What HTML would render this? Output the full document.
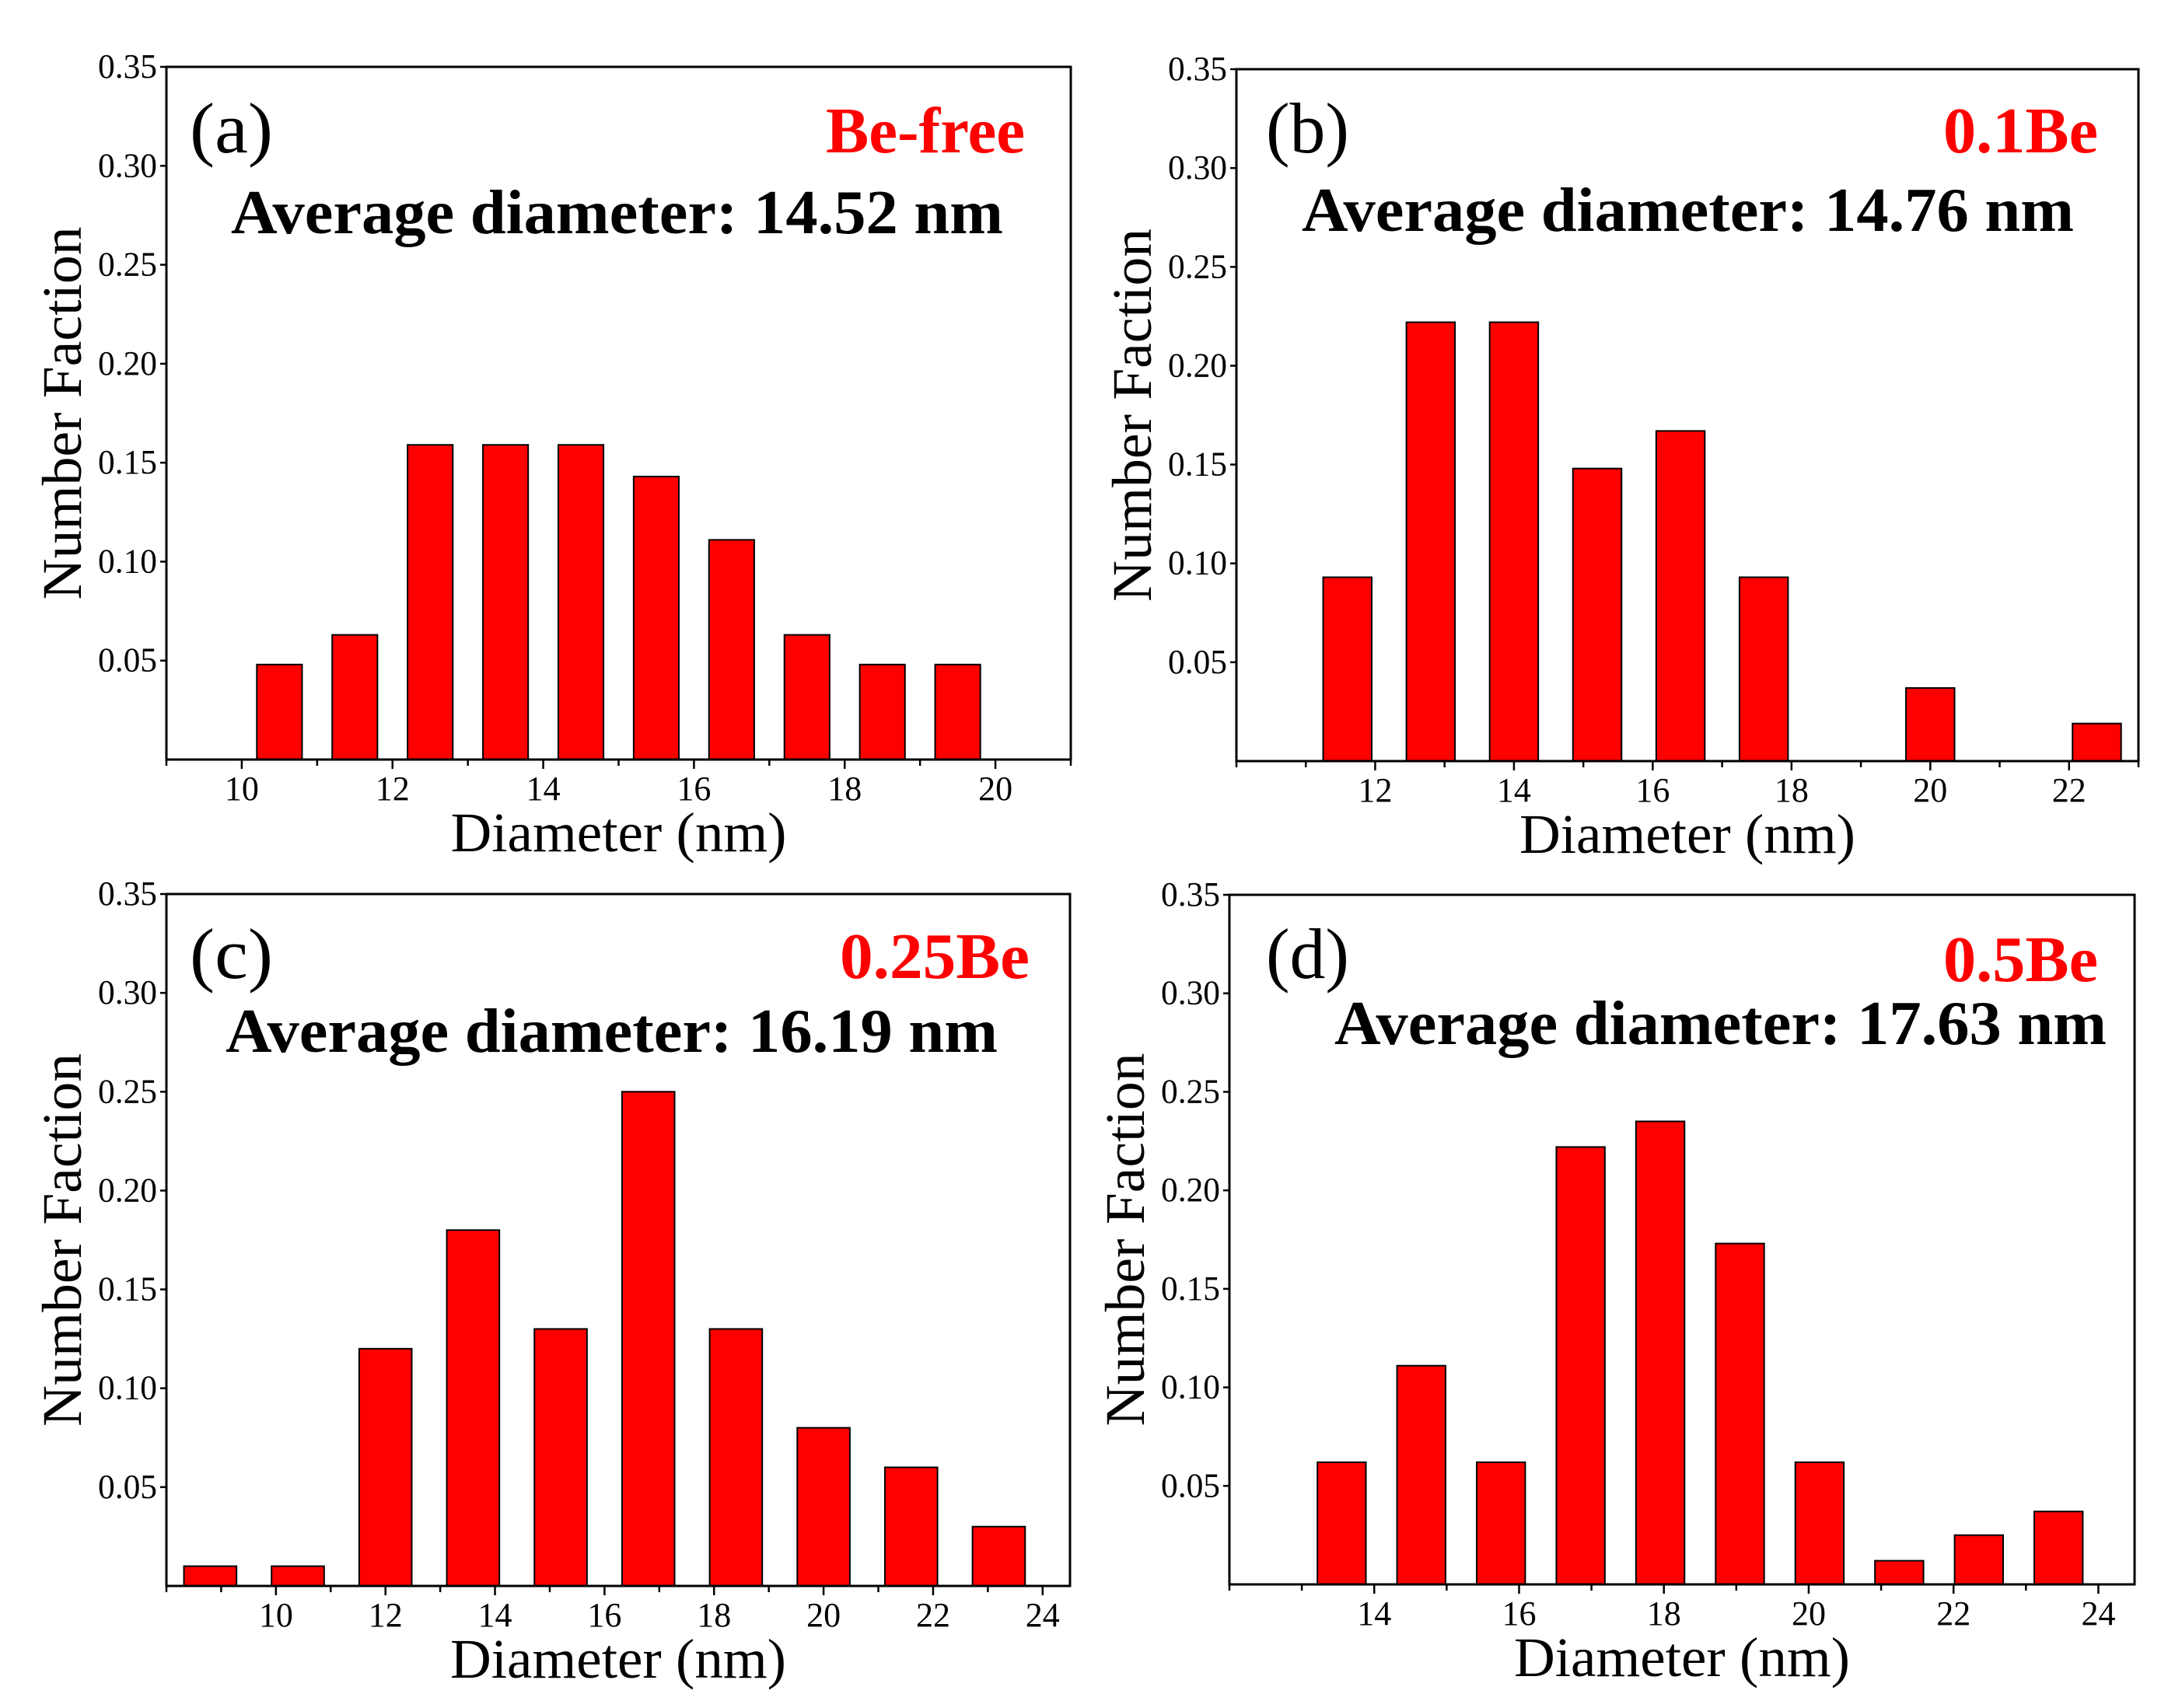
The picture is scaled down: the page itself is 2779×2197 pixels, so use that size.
<!DOCTYPE html>
<html><head><meta charset="utf-8"><style>
html,body{margin:0;padding:0;background:#fff;}
svg{display:block;}
text{font-family:"Liberation Serif",serif;}
</style></head><body>
<svg id="fig" width="2779" height="2197" viewBox="0 0 2779 2197" xmlns="http://www.w3.org/2000/svg"></svg>
<script>
const catsA=[10.5,11.5,12.5,13.5,14.5,15.5,16.5,17.5,18.5,19.5];
const valsA=[0.048,0.063,0.159,0.159,0.159,0.143,0.111,0.063,0.048,0.048];
const catsB=[11.6,12.8,14.0,15.2,16.4,17.6,18.8,20.0,21.2,22.4];
const valsB=[0.093,0.222,0.222,0.148,0.167,0.093,0,0.037,0,0.019];
const catsC=[8.8,10.4,12.0,13.6,15.2,16.8,18.4,20.0,21.6,23.2];
const valsC=[0.01,0.01,0.12,0.18,0.13,0.25,0.13,0.08,0.06,0.03];
const catsD=[13.55,14.65,15.75,16.85,17.95,19.05,20.15,21.25,22.35,23.45];
const valsD=[0.062,0.111,0.062,0.222,0.235,0.173,0.062,0.012,0.025,0.037];
const yTicks=[0.05,0.10,0.15,0.20,0.25,0.30,0.35];
const xTicksA=[10,12,14,16,18,20];
const xTicksB=[12,14,16,18,20,22];
const xTicksC=[10,12,14,16,18,20,22,24];
const xTicksD=[14,16,18,20,22,24];

const NS="http://www.w3.org/2000/svg";
const svg=document.getElementById('fig');
function mk(tag,attrs,parent,txt){const e=document.createElementNS(NS,tag);for(const k in attrs)e.setAttribute(k,attrs[k]);if(txt!==undefined)e.textContent=txt;parent.appendChild(e);return e;}

const panels=[
 {id:'a',L:214,R:1377,T:86,B:977,x0:9,x1:21,cats:catsA,vals:valsA,bw:0.6,xt:xTicksA,label:'(a)',tag:'Be-free',tw:256,avg:'Average diameter: 14.52 nm',lx:244,ly:196,tr:1318,ty:196,ax:297,aw:993,ay:300},
 {id:'b',L:1590,R:2750,T:89,B:979,x0:10,x1:23,cats:catsB,vals:valsB,bw:0.7,xt:xTicksB,label:'(b)',tag:'0.1Be',tw:199,avg:'Average diameter: 14.76 nm',lx:1628,ly:196,tr:2698,ty:196,ax:1674,aw:993,ay:297},
 {id:'c',L:214,R:1376,T:1150,B:2040,x0:8,x1:24.5,cats:catsC,vals:valsC,bw:0.96,xt:xTicksC,label:'(c)',tag:'0.25Be',tw:244,avg:'Average diameter: 16.19 nm',lx:244,ly:1258,tr:1324,ty:1258,ax:290,aw:993,ay:1353},
 {id:'d',L:1581,R:2745,T:1151,B:2038,x0:12,x1:24.5,cats:catsD,vals:valsD,bw:0.67,xt:xTicksD,label:'(d)',tag:'0.5Be',tw:199,avg:'Average diameter: 17.63 nm',lx:1628,ly:1258,tr:2698,ty:1262,ax:1716,aw:993,ay:1343}
];

panels.forEach(p=>{
 const g=mk('g',{},svg);
 
 
 const sx=v=>p.L+(v-p.x0)/(p.x1-p.x0)*(p.R-p.L);
 const sy=v=>p.B-v/0.35*(p.B-p.T);
 p.cats.forEach((c,i)=>{
  if(p.vals[i]<=0)return;
  const r=mk('rect',{x:sx(c-p.bw/2),y:sy(p.vals[i]),width:sx(c+p.bw/2)-sx(c-p.bw/2),height:p.B-sy(p.vals[i]),fill:'#ff0000',stroke:'#000','stroke-width':2},g);
  
  
 });
 const fr=mk('rect',{x:p.L,y:p.T,width:p.R-p.L,height:p.B-p.T,fill:'none',stroke:'#000','stroke-width':3},g);
 
 
 for(let v=Math.ceil(p.x0);v<=Math.floor(p.x1);v++){
  const major=p.xt.includes(v);
  mk('line',{x1:sx(v),x2:sx(v),y1:p.B,y2:p.B+(major?12:8),stroke:'#000','stroke-width':2.5},g);
 }
 p.xt.forEach(v=>{
  const t=mk('text',{x:sx(v),y:p.B+52,'text-anchor':'middle','font-size':44,fill:'#000'},g,String(v));
  
  
 });
 yTicks.forEach(v=>{
  mk('line',{x1:p.L-8,x2:p.L,y1:sy(v),y2:sy(v),stroke:'#000','stroke-width':2.5},g);
  const t=mk('text',{x:p.L-12,y:sy(v)+14,'text-anchor':'end','font-size':44,fill:'#000',textLength:76,lengthAdjust:'spacingAndGlyphs'},g,v.toFixed(2));
  
  
 });
 const cx=(p.L+p.R)/2, cy=(p.T+p.B)/2;
 const xt=mk('text',{x:cx,y:p.B+118,'text-anchor':'middle','font-size':72,fill:'#000',textLength:432,lengthAdjust:'spacingAndGlyphs'},g,'Diameter (nm)');
 
 
 const yx=p.L-134;
 const yt=mk('text',{x:yx,y:cy,'text-anchor':'middle','font-size':72,fill:'#000',transform:`rotate(-90 ${yx} ${cy})`,dy:24,textLength:480,lengthAdjust:'spacingAndGlyphs'},g,'Number Faction');
 
 
 const lb=mk('text',{x:p.lx,y:p.ly,'font-size':92,fill:'#000',textLength:107,lengthAdjust:'spacingAndGlyphs'},g,p.label);
 
 
 const tg=mk('text',{x:p.tr-p.tw,y:p.ty,'font-size':84,'font-weight':'bold',fill:'#ff0000',textLength:p.tw,lengthAdjust:'spacingAndGlyphs'},g,p.tag);
 
 
 const av=mk('text',{x:p.ax,y:p.ay,'font-size':80,'font-weight':'bold',fill:'#000',textLength:p.aw,lengthAdjust:'spacingAndGlyphs'},g,p.avg);
 
 
});
</script>
</body></html>
